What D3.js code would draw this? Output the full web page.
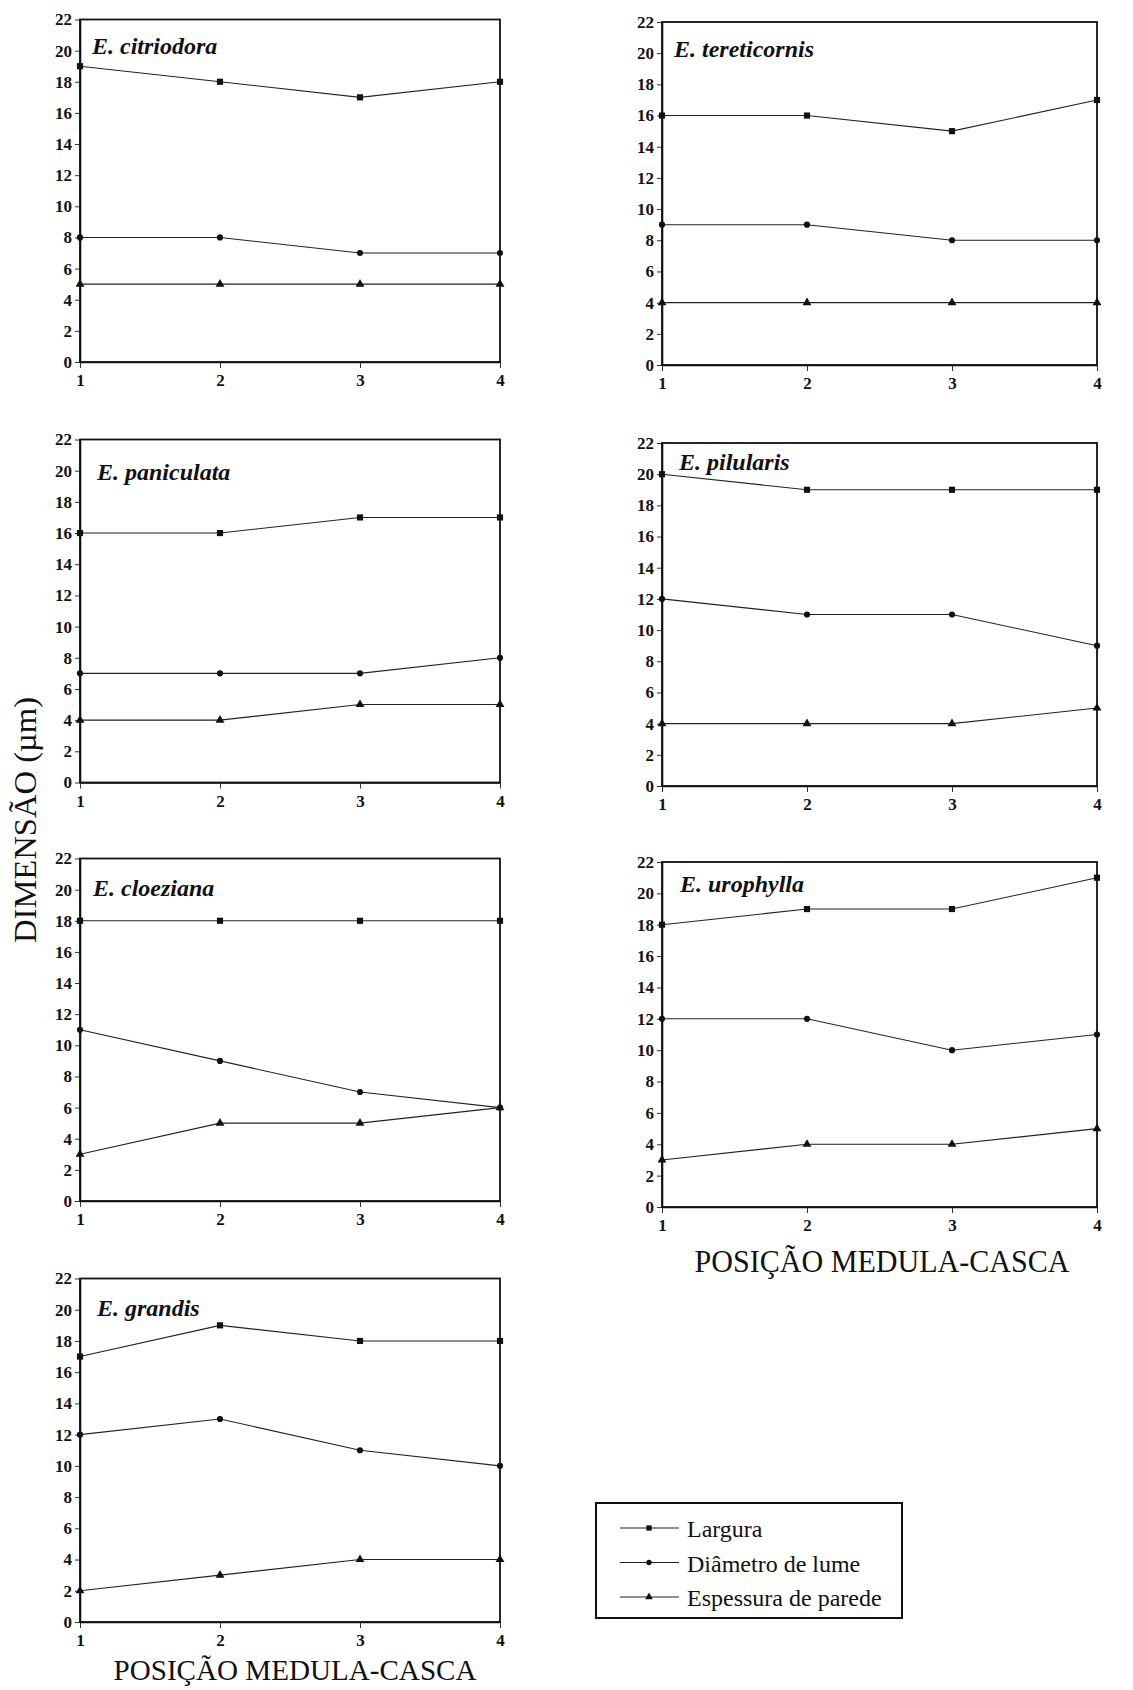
<!DOCTYPE html>
<html>
<head>
<meta charset="utf-8">
<script src="https://cdn.jsdelivr.net/npm/d3@7"></script>
<style>
  html, body { margin: 0; padding: 0; background: #fff; }
  svg { display: block; }
</style>
</head>
<body>
<svg id="chart" width="1133" height="1690"></svg>
<script>
// Radial position (pith to bark) and y tick values
const positions = [1, 2, 3, 4];
const yTickValues = [0, 2, 4, 6, 8, 10, 12, 14, 16, 18, 20, 22];

// Species shown, one panel each
const species = ["E. citriodora", "E. tereticornis", "E. paniculata", "E. pilularis",
                 "E. cloeziana", "E. urophylla", "E. grandis"];

// Fibre width (µm) per position
const largura = [
  [19, 18, 17, 18],
  [16, 16, 15, 17],
  [16, 16, 17, 17],
  [20, 19, 19, 19],
  [18, 18, 18, 18],
  [18, 19, 19, 21],
  [17, 19, 18, 18]
];
// Lumen diameter (µm)
const diametro = [
  [8, 8, 7, 7],
  [9, 9, 8, 8],
  [7, 7, 7, 8],
  [12, 11, 11, 9],
  [11, 9, 7, 6],
  [12, 12, 10, 11],
  [12, 13, 11, 10]
];
// Wall thickness (µm)
const espessura = [
  [5, 5, 5, 5],
  [4, 4, 4, 4],
  [4, 4, 5, 5],
  [4, 4, 4, 5],
  [3, 5, 5, 6],
  [3, 4, 4, 5],
  [2, 3, 4, 4]
];

const seriesNames = ["Largura", "Diâmetro de lume", "Espessura de parede"];
const xTitle = "POSIÇÃO MEDULA-CASCA";
const yTitle = "DIMENSÃO (µm)";

// Panel frames: left, right, top, bottom, title offset
const panelLayout = [
  { l: 80,  r: 500,  t: 19.5,  b: 362,   tx: 92,  ty: 34 },
  { l: 662, r: 1097, t: 22,    b: 365,   tx: 674, ty: 35 },
  { l: 80,  r: 500,  t: 439.5, b: 782.5, tx: 97,  ty: 40 },
  { l: 662, r: 1097, t: 443,   b: 786,   tx: 679, ty: 27 },
  { l: 80,  r: 500,  t: 858.5, b: 1201,  tx: 93,  ty: 37 },
  { l: 662, r: 1097, t: 862,   b: 1207,  tx: 680, ty: 30 },
  { l: 80,  r: 500,  t: 1278.5,b: 1622,  tx: 97,  ty: 37 }
];

const serif = '"Liberation Serif", "Times New Roman", serif';
const markerTypes = [d3.symbolSquare, d3.symbolCircle, d3.symbolTriangle];
const markerSizes = [38, 30, 34];
const lineColor = "#222";

const svg = d3.select("#chart");

function styleAxis(a) {
  a.attr("font-family", serif).attr("font-size", 17).attr("font-weight", "bold");
  a.select(".domain").attr("stroke", "#111").attr("stroke-width", 1.6);
  a.selectAll(".tick line").attr("stroke", "#333").attr("stroke-width", 1);
  a.selectAll(".tick text").attr("fill", "#111");
}

species.forEach((name, i) => {
  const p = panelLayout[i];
  const x = d3.scaleLinear().domain([1, 4]).range([p.l, p.r]);
  const y = d3.scaleLinear().domain([0, 22]).range([p.b, p.t]);
  const g = svg.append("g");

  // y axis
  const ya = g.append("g").attr("transform", `translate(${p.l},0)`)
    .call(d3.axisLeft(y).tickValues(yTickValues).tickSize(5).tickSizeOuter(0).tickPadding(3));
  styleAxis(ya);

  // x axis
  const xa = g.append("g").attr("transform", `translate(0,${p.b})`)
    .call(d3.axisBottom(x).tickValues(positions).tickFormat(d3.format("d")).tickSize(6).tickSizeOuter(0).tickPadding(6));
  styleAxis(xa);

  // frame
  g.append("rect")
    .attr("x", p.l).attr("y", p.t)
    .attr("width", p.r - p.l).attr("height", p.b - p.t)
    .attr("fill", "none").attr("stroke", "#111").attr("stroke-width", 1.8);

  // series
  const seriesData = [largura[i], diametro[i], espessura[i]];
  const line = d3.line().x((d, k) => x(positions[k])).y(d => y(d));
  seriesData.forEach((vals, s) => {
    g.append("path").datum(vals)
      .attr("d", line)
      .attr("fill", "none").attr("stroke", lineColor).attr("stroke-width", 1.1);
    g.selectAll(null).data(vals).join("path")
      .attr("transform", (d, k) => `translate(${x(positions[k])},${y(d)})`)
      .attr("d", d3.symbol().type(markerTypes[s]).size(markerSizes[s]))
      .attr("fill", "#111");
  });

  // species title
  g.append("text")
    .attr("x", p.tx).attr("y", p.t + p.ty)
    .attr("font-family", serif).attr("font-style", "italic").attr("font-weight", "bold")
    .attr("font-size", 24).attr("fill", "#111")
    .text(name);
});

// axis titles
svg.append("text")
  .attr("transform", "translate(36,820) rotate(-90)")
  .attr("text-anchor", "middle")
  .attr("font-family", serif).attr("font-size", 31).attr("fill", "#111")
  .attr("textLength", 246).attr("lengthAdjust", "spacingAndGlyphs")
  .text(yTitle);

svg.append("text")
  .attr("x", 295).attr("y", 1680)
  .attr("text-anchor", "middle")
  .attr("font-family", serif).attr("font-size", 30).attr("fill", "#111")
  .attr("textLength", 363).attr("lengthAdjust", "spacingAndGlyphs")
  .text(xTitle);

svg.append("text")
  .attr("x", 882).attr("y", 1272)
  .attr("text-anchor", "middle")
  .attr("font-family", serif).attr("font-size", 31).attr("fill", "#111")
  .attr("textLength", 375).attr("lengthAdjust", "spacingAndGlyphs")
  .text(xTitle);

// legend
const lg = svg.append("g");
lg.append("rect")
  .attr("x", 596).attr("y", 1503).attr("width", 306).attr("height", 115)
  .attr("fill", "none").attr("stroke", "#111").attr("stroke-width", 2);
seriesNames.forEach((nm, s) => {
  const cy = 1528 + s * 34.5;
  lg.append("line").attr("x1", 620).attr("x2", 679).attr("y1", cy).attr("y2", cy)
    .attr("stroke", lineColor).attr("stroke-width", 1.1);
  lg.append("path").attr("transform", `translate(649,${cy})`)
    .attr("d", d3.symbol().type(markerTypes[s]).size(markerSizes[s] * 0.75))
    .attr("fill", "#111");
  lg.append("text").attr("x", 687).attr("y", cy + 9)
    .attr("font-family", serif).attr("font-size", 24).attr("fill", "#111")
    .text(nm);
});
</script>
</body>
</html>
